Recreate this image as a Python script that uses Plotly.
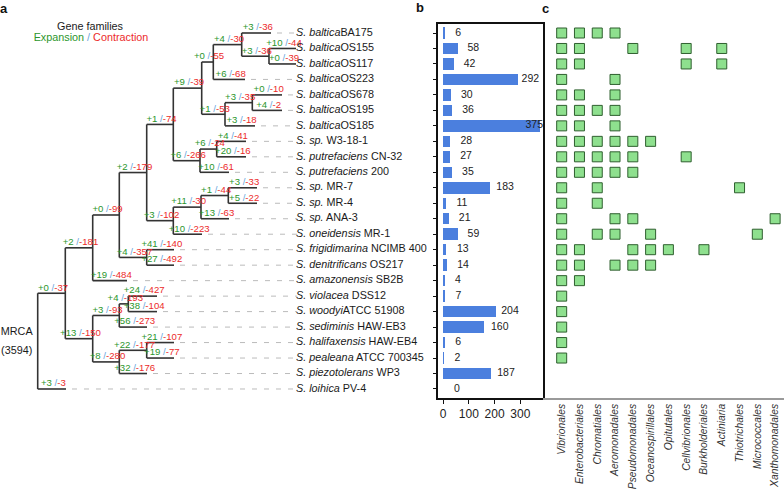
import plotly.graph_objects as go

W, H = 784, 491
FONT = "Liberation Sans, Arial, sans-serif"

# ---------------- data ----------------
species_italic = ["S. baltica", "S. baltica", "S. baltica", "S. baltica", "S. baltica", "S. baltica",
                  "S. baltica", "S. sp.", "S. putrefaciens", "S. putrefaciens", "S. sp.", "S. sp.",
                  "S. sp.", "S. oneidensis", "S. frigidimarina", "S. denitrificans", "S. amazonensis",
                  "S. violacea", "S. woodyi", "S. sediminis", "S. halifaxensis", "S. pealeana",
                  "S. piezotolerans", "S. loihica"]
species_strain = ["BA175", "OS155", "OS117", "OS223", "OS678", "OS195", "OS185", " W3-18-1", " CN-32",
                  " 200", " MR-7", " MR-4", " ANA-3", " MR-1", " NCIMB 400", " OS217", " SB2B",
                  " DSS12", "ATCC 51908", " HAW-EB3", " HAW-EB4", " ATCC 700345", " WP3", " PV-4"]

# tree nodes: 0..23 leaves (same order as species), 24..46 internal nodes
node_parent = [25, 24, 24, 26, 27, 27, 28, 30, 30, 31, 33, 33, 34, 35, 37, 37, 39, 40, 40, 41, 42, 42, 43, 46,
               25, 26, 29, 28, 29, 32, 31, 32, 36, 34, 35, 36, 38, 38, 39, 45, 41, 44, 43, 44, 45, 46, None]
node_depth = [271, 296, 296, 245, 282, 282, 255, 246, 246, 229, 257, 257, 229, 202, 174, 174, 127, 157, 157,
              147, 174, 174, 147, 66,
              269, 241.7, 213.3, 252.3, 225, 201.7, 216.7, 200, 173.3, 228.3, 201, 173.3, 146.7, 146.7,
              119.3, 92.7, 128.3, 119.3, 146.7, 119.3, 92.7, 65.3, 37.7]
node_gain = [3, 10, 0, 6, 0, 4, 3, 4, 20, 10, 3, 5, 13, 10, 41, 27, 19, 24, 38, 56, 21, 19, 32, 3,
             3, 4, 0, 3, 1, 9, 6, 6, 1, 1, 11, 3, 2, 4, 0, 2, 4, 3, 22, 8, 13, 0, None]
node_loss = [36, 44, 39, 68, 10, 2, 18, 41, 16, 61, 33, 22, 63, 223, 140, 492, 484, 427, 104, 273, 107, 77,
             176, 3,
             36, 30, 55, 35, 53, 39, 24, 266, 74, 44, 30, 102, 179, 357, 99, 181, 193, 93, 177, 280, 150,
             37, None]
root_families = 3594

bar_values = [6, 58, 42, 292, 30, 36, 375, 28, 27, 35, 183, 11, 21, 59, 13, 14, 4, 7, 204, 160, 6, 2, 187, 0]

orders = ["Vibrionales", "Enterobacteriales", "Chromatiales", "Aeromonadales", "Pseudomonadales",
          "Oceanospirillales", "Opitutales", "Cellvibrionales", "Burkholderiales", "Actiniaria",
          "Thiotrichales", "Micrococcales", "Xanthomonadales"]
presence = [[0, 1, 2, 3], [0, 1, 4, 7, 9], [0, 1, 7, 9], [0, 3], [0, 1, 3], [0, 1, 2, 3], [0, 1, 3],
            [0, 1, 2, 3, 4, 5], [0, 1, 2, 3, 4, 7], [0, 1, 2, 3, 4], [0, 2, 10], [0, 2], [0, 3, 4, 12],
            [0, 2, 3, 5, 11], [0, 1, 4, 5, 6, 8], [0, 1, 3, 4, 5], [0, 1], [0], [0], [0], [0], [0], [], []]

# ---------------- geometry helpers ----------------
n_leaf = len(species_italic)
ROW0, ROWH = 33.0, 15.478  # pixel of first row, row pitch


def yrange_for(top_px, bot_px):
    return [(bot_px - ROW0) / ROWH, (top_px - ROW0) / ROWH]


# node y positions (mean of children)
n_nodes = len(node_parent)
children = {i: [] for i in range(n_nodes)}
for i, p in enumerate(node_parent):
    if p is not None:
        children[p].append(i)
node_y = [0.0] * n_nodes
for i in range(n_nodes):
    if i < n_leaf:
        node_y[i] = float(i)
    else:
        node_y[i] = sum(node_y[c] for c in children[i]) / len(children[i])

fig = go.Figure()

# ---------------- tree ----------------
bx, by = [], []
for i, p in enumerate(node_parent):
    if p is None:
        continue
    bx += [node_depth[p], node_depth[i], None]
    by += [node_y[i], node_y[i], None]
for i in range(n_leaf, n_nodes):
    ys = [node_y[c] for c in children[i]]
    bx += [node_depth[i], node_depth[i], None]
    by += [min(ys), max(ys), None]
fig.add_trace(go.Scatter(x=bx, y=by, mode="lines", line=dict(color="#333333", width=1.6),
                         hoverinfo="skip", showlegend=False, xaxis="x", yaxis="y"))

LABEL_X = 299
dx, dy = [], []
for i in range(n_leaf):
    if node_depth[i] + 6 < LABEL_X - 2:
        dx += [node_depth[i] + 6, LABEL_X - 2, None]
        dy += [i, i, None]
fig.add_trace(go.Scatter(x=dx, y=dy, mode="lines", line=dict(color="#BBBBBB", width=1, dash="5px,7px"),
                         hoverinfo="skip", showlegend=False, xaxis="x", yaxis="y"))

GREEN, RED, SLASH = "#2C962C", "#EC2A2A", "#6AA6DD"
ex, ey, et = [], [], []
for i, p in enumerate(node_parent):
    if p is None:
        continue
    ex.append((node_depth[p] + node_depth[i]) / 2 + 1.5)
    ey.append(node_y[i] - 0.33)
    et.append(f'<span style="color:{GREEN}">+{node_gain[i]}</span>'
              f'<span style="color:{SLASH}"> /</span>'
              f'<span style="color:{RED}">-{node_loss[i]}</span>')
fig.add_trace(go.Scatter(x=ex, y=ey, text=et, mode="text", textposition="middle center",
                         textfont=dict(family=FONT, size=9.6), hoverinfo="skip", showlegend=False,
                         cliponaxis=False, xaxis="x", yaxis="y"))

fig.add_trace(go.Scatter(x=[LABEL_X - 3] * n_leaf, y=list(range(n_leaf)),
                         text=[f"<i>{a}</i>{b}" for a, b in zip(species_italic, species_strain)],
                         mode="text", textposition="middle right",
                         textfont=dict(family=FONT, size=10.8, color="#1a1a1a"),
                         hoverinfo="skip", showlegend=False, cliponaxis=False, xaxis="x", yaxis="y"))

root = n_nodes - 1
fig.add_trace(go.Scatter(x=[node_depth[root] - 21, node_depth[root] - 21],
                         y=[node_y[root] - 0.6, node_y[root] + 0.63],
                         text=["MRCA", f"({root_families})"], mode="text", textposition="middle center",
                         textfont=dict(family=FONT, size=10.8, color="#1a1a1a"),
                         hoverinfo="skip", showlegend=False, cliponaxis=False, xaxis="x", yaxis="y"))

fig.add_trace(go.Scatter(x=[90, 91], y=[-0.38, 0.33],
                         text=["Gene families",
                               f'<span style="color:{GREEN}">Expansion</span>'
                               f'<span style="color:{SLASH}"> / </span>'
                               f'<span style="color:{RED}">Contraction</span>'],
                         mode="text", textposition="middle center",
                         textfont=dict(family=FONT, size=10.8, color="#1a1a1a"),
                         hoverinfo="skip", showlegend=False, cliponaxis=False, xaxis="x", yaxis="y"))

# ---------------- bars ----------------
fig.add_trace(go.Bar(x=bar_values, y=list(range(n_leaf)), orientation="h", width=0.74,
                     marker=dict(color="#4B7FDE", line=dict(width=0)), hoverinfo="skip",
                     showlegend=False, xaxis="x2", yaxis="y2"))
fig.add_trace(go.Scatter(x=[min(42 + 0.9 * v, 320) for v in bar_values], y=list(range(n_leaf)),
                         text=[str(v) for v in bar_values], mode="text", textposition="middle right",
                         textfont=dict(family=FONT, size=10.5, color="#222222"),
                         hoverinfo="skip", showlegend=False, cliponaxis=False, xaxis="x2", yaxis="y2"))

# ---------------- presence matrix ----------------
mx, my = [], []
for r, cols in enumerate(presence):
    for c in cols:
        mx.append(c)
        my.append(r)
fig.add_trace(go.Scatter(x=mx, y=my, mode="markers",
                         marker=dict(symbol="square", size=10, color="#8EE08E",
                                     line=dict(color="#2F5F2F", width=1)),
                         hoverinfo="skip", showlegend=False, xaxis="x3", yaxis="y2"))

# ---------------- layout ----------------
BAR_L, BAR_R, BAR_T, BAR_B = 438, 543, 24, 398
fig.update_layout(
    width=W, height=H, margin=dict(l=0, r=0, t=0, b=0, autoexpand=False),
    paper_bgcolor="white", plot_bgcolor="rgba(0,0,0,0)",
    font=dict(family=FONT, color="#222222"),
    xaxis=dict(domain=[0, 1], range=[0, W], visible=False, fixedrange=True, automargin=False),
    yaxis=dict(domain=[0, 1], range=yrange_for(0, H), visible=False, fixedrange=True, automargin=False),
    xaxis2=dict(domain=[BAR_L / W, BAR_R / W], range=[-20, 388], anchor="y2", automargin=False,
                showline=True, mirror=True, linecolor="#111111", linewidth=1.5,
                showgrid=False, zeroline=False, ticks="outside", ticklen=4, tickcolor="#111111",
                tickvals=[0, 100, 200, 300], tickfont=dict(size=12, color="#222222")),
    yaxis2=dict(domain=[1 - BAR_B / H, 1 - BAR_T / H], range=yrange_for(BAR_T, BAR_B), anchor="x2",
                automargin=False,
                showline=True, mirror=True, linecolor="#111111", linewidth=1.5,
                showgrid=False, zeroline=False, ticks="outside", ticklen=3, tickcolor="#111111",
                tickvals=list(range(n_leaf)), showticklabels=False),
    xaxis3=dict(domain=[BAR_R / W, 1], range=[-1.05, 12.5], anchor="y2", automargin=False,
                showline=True, linecolor="#9a9a9a", linewidth=1.5, showgrid=False, zeroline=False,
                tickvals=list(range(len(orders))), ticktext=[f"<i>{o}</i>" for o in orders],
                tickangle=-90, ticks="", tickfont=dict(size=10.3, color="#333333")),
    bargap=0,
)

for letter, px, py in [("a", 4, 9), ("b", 420, 7), ("c", 545, 9)]:
    fig.add_annotation(x=px / W, y=1 - py / H, xref="paper", yref="paper", text=f"<b>{letter}</b>",
                       showarrow=False, font=dict(family=FONT, size=13, color="#111111"),
                       xanchor="center", yanchor="middle")

fig.write_html("out.html", config={"displayModeBar": False},
               post_script="document.body.style.margin='0';document.body.style.overflow='hidden';")
